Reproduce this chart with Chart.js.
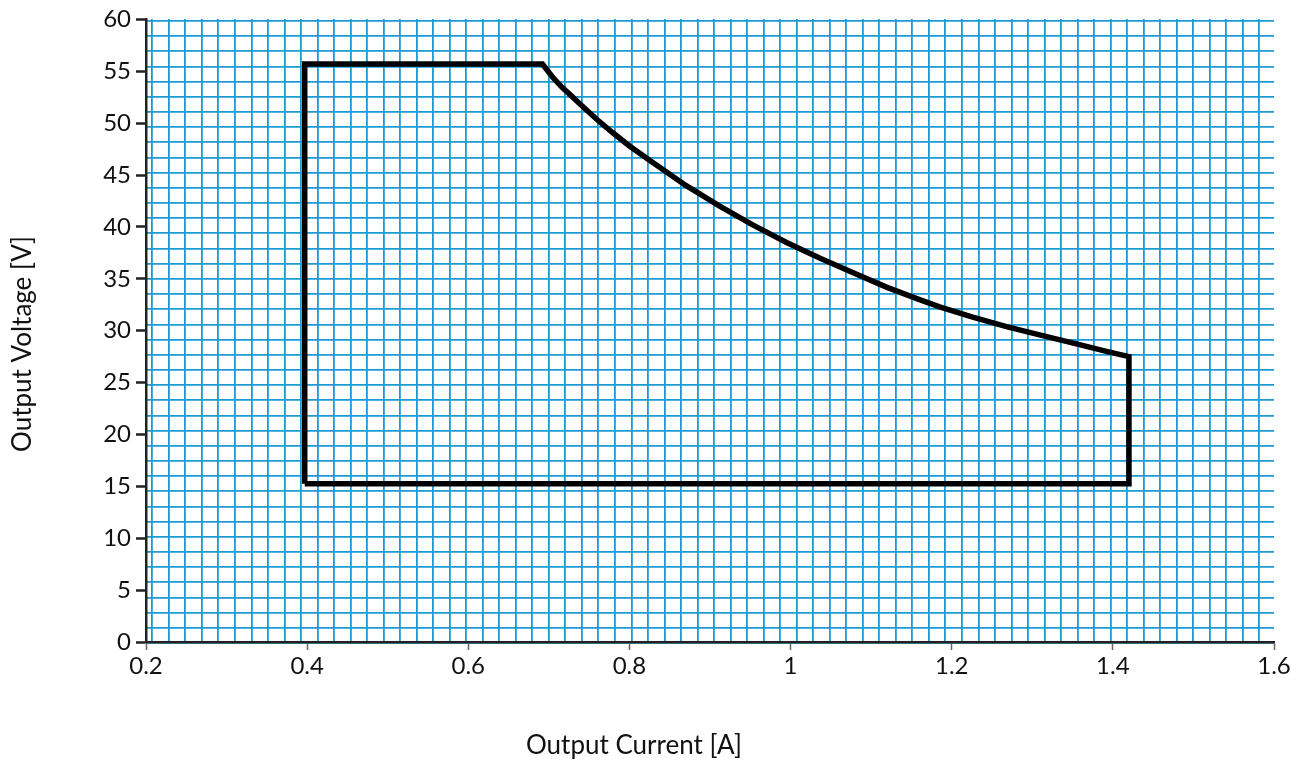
<!DOCTYPE html>
<html>
<head>
<meta charset="utf-8">
<script src="https://cdn.jsdelivr.net/npm/chart.js@4.4.1/dist/chart.umd.min.js"></script>
<style>
  html, body { margin: 0; padding: 0; background: #fff; }
  #wrap { width: 1296px; height: 763px; }
</style>
</head>
<body>
<div id="wrap"><canvas id="chart"></canvas></div>
<script>
// Operating area (current [A] vs voltage [V])
const cornerCurrent = [0.397, 0.397];
const cornerVoltage = [15.25, 55.7];
const curveCurrent = [0.692, 0.705, 0.717, 0.727, 0.738, 0.759, 0.779, 0.800, 0.829, 0.870, 0.912, 0.953, 0.995,
  1.036, 1.077, 1.119, 1.160, 1.185, 1.226, 1.268, 1.309, 1.351, 1.392, 1.420];
const curveVoltage = [55.7, 54.4, 53.4, 52.7, 51.9, 50.4, 49.1, 47.8, 46.2, 44.0, 42.0, 40.2, 38.5,
  37.0, 35.6, 34.2, 33.0, 32.3, 31.3, 30.4, 29.6, 28.8, 28.0, 27.5];
const endCurrent = [1.420, 0.397];
const endVoltage = [15.25, 15.25];

const xTicks = [0.2, 0.4, 0.6, 0.8, 1, 1.2, 1.4, 1.6];
const yTicks = [0, 5, 10, 15, 20, 25, 30, 35, 40, 45, 50, 55, 60];

const xTitle = "Output Current [A]";
const yTitle = "Output Voltage [V]";

// closed outline: left edge, top plateau + power curve, right edge, bottom
const outline = [];
cornerCurrent.forEach((c, i) => outline.push({ x: c, y: cornerVoltage[i] }));
curveCurrent.forEach((c, i) => outline.push({ x: c, y: curveVoltage[i] }));
endCurrent.forEach((c, i) => outline.push({ x: c, y: endVoltage[i] }));

// graph-paper background is not aligned with the value ticks
const gridCols = Array.from({ length: 68 }, (_, i) => i);
const gridRows = Array.from({ length: 42 }, (_, i) => i);

const FONT = "Lato, 'Open Sans', sans-serif";
const INK = "#111";
const BLUE = "#1b9ad3";

const axisTitles = {
  id: "axisTitles",
  afterDraw(chart) {
    const ctx = chart.ctx;
    ctx.save();
    ctx.fillStyle = INK;
    ctx.font = "26px " + FONT;
    ctx.textAlign = "center";
    ctx.textBaseline = "middle";
    ctx.fillText(xTitle, 634, 746);
    ctx.translate(23, 344);
    ctx.rotate(-Math.PI / 2);
    ctx.fillText(yTitle, 0, 0);
    ctx.restore();
  }
};

new Chart(document.getElementById("chart"), {
  type: "scatter",
  data: {
    datasets: [{
      data: outline,
      showLine: true,
      borderColor: "#000",
      borderWidth: 5.5,
      borderJoinStyle: "miter",
      pointRadius: 0,
      tension: 0,
      fill: false
    }]
  },
  options: {
    responsive: true,
    maintainAspectRatio: false,
    animation: false,
    layout: { padding: { top: 19, right: 22, bottom: 0, left: 0 } },
    plugins: { legend: { display: false }, tooltip: { enabled: false } },
    scales: {
      x: {
        type: "linear",
        min: 0.2,
        max: 1.6,
        afterBuildTicks: (s) => { s.ticks = xTicks.map((v) => ({ value: v })); },
        afterFit: (s) => { s.height = 121; },
        border: { color: "#222", width: 2.5 },
        grid: { drawOnChartArea: false, drawTicks: true, tickLength: 8, tickColor: "#666", tickWidth: 1.5 },
        ticks: {
          color: INK,
          font: { family: FONT, size: 24 },
          padding: 2,
          maxRotation: 0,
          callback: (v) => String(Math.round(v * 10) / 10)
        }
      },
      y: {
        type: "linear",
        min: 0,
        max: 60,
        afterBuildTicks: (s) => { s.ticks = yTicks.map((v) => ({ value: v })); },
        afterFit: (s) => { s.width = 146; },
        border: { color: "#222", width: 2.5 },
        grid: { drawOnChartArea: false, drawTicks: true, tickLength: 10, tickColor: "#222", tickWidth: 2.5 },
        ticks: { color: INK, font: { family: FONT, size: 24 }, padding: 5 }
      },
      gx: {
        type: "linear",
        position: "top",
        min: -0.38,
        max: 67.89,
        afterBuildTicks: (s) => { s.ticks = gridCols.map((v) => ({ value: v })); },
        afterFit: (s) => { s.height = 0; },
        border: { display: false },
        grid: { color: BLUE, lineWidth: 1.8, drawTicks: false },
        ticks: { display: false }
      },
      gy: {
        type: "linear",
        position: "right",
        reverse: true,
        min: -0.1,
        max: 40.93,
        afterBuildTicks: (s) => { s.ticks = gridRows.map((v) => ({ value: v })); },
        afterFit: (s) => { s.width = 0; },
        border: { display: false },
        grid: { color: BLUE, lineWidth: 1.8, drawTicks: false },
        ticks: { display: false }
      }
    }
  },
  plugins: [axisTitles]
});
</script>
</body>
</html>
